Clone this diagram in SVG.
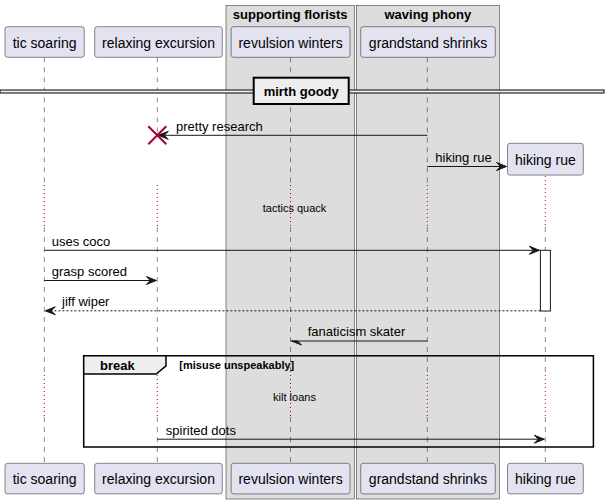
<svg xmlns="http://www.w3.org/2000/svg" width="609" height="504" viewBox="0 0 609 504">
<style>
text{font-family:"Liberation Sans",Arial,sans-serif;fill:#000}
.pbox{fill:#E2E2F0;stroke:#181818;stroke-width:0.5}
.pt{font-size:14px;text-anchor:middle}
.grp{fill:#DDDDDD;stroke:#181818;stroke-width:0.5}
.gt{font-size:13px;font-weight:bold;text-anchor:middle}
.ll{stroke:#181818;stroke-width:0.5;stroke-dasharray:5,5;fill:none}
.dl{stroke:#A80036;stroke-width:1;stroke-dasharray:1,3;fill:none}
.msg{stroke:#181818;stroke-width:1;fill:none}
.dash{stroke:#181818;stroke-width:1;stroke-dasharray:2,2;fill:none}
.ah{fill:#181818;stroke:#181818;stroke-width:1}
.ml{font-size:13px}
.dt{font-size:11px;text-anchor:middle}
</style>
<rect width="609" height="504" fill="#FFFFFF"/>
<g id="box-supporting-florists">
<rect class="grp" x="226" y="5.7" width="128.3" height="493.3"/>
<text class="gt" x="290.2" y="19">supporting florists</text>
</g>
<g id="box-waving-phony">
<rect class="grp" x="356.3" y="5.7" width="143" height="493.3"/>
<text class="gt" x="427.8" y="19">waving phony</text>
</g>
<g id="lifelines">
<path class="ll" d="M44.3,57.3V185M44.3,227V375M44.3,417V463.3"/>
<path class="dl" d="M44.3,185V227M44.3,375V417"/>
<path class="ll" d="M157.3,57.3V135.3M157.3,227V375M157.3,417V463.3"/>
<path class="dl" d="M157.3,185V227M157.3,375V417"/>
<path class="ll" d="M290.5,57.3V185M290.5,227V375M290.5,417V463.3"/>
<path class="dl" d="M290.5,185V227M290.5,375V417"/>
<path class="ll" d="M427.3,57.3V185M427.3,227V375M427.3,417V463.3"/>
<path class="dl" d="M427.3,185V227M427.3,375V417"/>
<path class="ll" d="M545.3,227V375M545.3,417V463.3"/>
<path class="dl" d="M545.3,176V227M545.3,375V417"/>
</g>
<g id="p-tic-soaring">
<rect class="pbox" x="5" y="26.7" width="79.3" height="30.6" rx="2.5"/>
<text class="pt" x="44.6" y="47.5">tic soaring</text>
<rect class="pbox" x="5" y="463.3" width="79.3" height="30.6" rx="2.5"/>
<text class="pt" x="44.6" y="484.2">tic soaring</text>
</g>
<g id="p-relaxing-excursion">
<rect class="pbox" x="94.7" y="26.7" width="127.6" height="30.6" rx="2.5"/>
<text class="pt" x="158.5" y="47.5">relaxing excursion</text>
<rect class="pbox" x="94.7" y="463.3" width="127.6" height="30.6" rx="2.5"/>
<text class="pt" x="158.5" y="484.2">relaxing excursion</text>
</g>
<g id="p-revulsion-winters">
<rect class="pbox" x="231.2" y="26.7" width="118.8" height="30.6" rx="2.5"/>
<text class="pt" x="290.6" y="47.5">revulsion winters</text>
<rect class="pbox" x="231.2" y="463.3" width="118.8" height="30.6" rx="2.5"/>
<text class="pt" x="290.6" y="484.2">revulsion winters</text>
</g>
<g id="p-grandstand-shrinks">
<rect class="pbox" x="360.7" y="26.7" width="134.6" height="30.6" rx="2.5"/>
<text class="pt" x="428" y="47.5">grandstand shrinks</text>
<rect class="pbox" x="360.7" y="463.3" width="134.6" height="30.6" rx="2.5"/>
<text class="pt" x="428" y="484.2">grandstand shrinks</text>
</g>
<g id="p-hiking-rue">
<rect class="pbox" x="507.5" y="143.3" width="75.8" height="31.8" rx="2.5"/>
<text class="pt" x="545.4" y="164.5">hiking rue</text>
<rect class="pbox" x="507.5" y="463.3" width="75.8" height="30.6" rx="2.5"/>
<text class="pt" x="545.4" y="484.2">hiking rue</text>
</g>
<g id="divider-mirth-goody">
<rect x="0" y="90" width="604" height="3" fill="#EEEEEE" stroke="#000" stroke-width="1"/>
<rect x="253.7" y="77.7" width="95" height="26.3" fill="#EEEEEE" stroke="#000" stroke-width="2"/>
<text class="gt" x="301.2" y="95.5">mirth goody</text>
</g>
<g id="activation-hiking-rue">
<rect x="540.4" y="250.3" width="10" height="60.7" fill="#FFFFFF" stroke="#181818" stroke-width="1"/>
</g>
<g id="connectors">
<line class="msg" x1="427.3" y1="135.3" x2="158.3" y2="135.3"/>
<polygon class="ah" points="158.3,135.3 168.3,131.3 164.3,135.3 168.3,139.3"/>
<text class="ml" x="176" y="130.6">pretty research</text>
<path d="M148.3,126.3L166.3,144.3M148.3,144.3L166.3,126.3" stroke="#A80036" stroke-width="2" fill="none"/>
<line class="msg" x1="427.3" y1="166.5" x2="506.5" y2="166.5"/>
<polygon class="ah" points="506.5,166.5 496.5,162.5 500.5,166.5 496.5,170.5"/>
<text class="ml" x="435.3" y="161.6">hiking rue</text>
<line class="msg" x1="44.3" y1="250.3" x2="539.4" y2="250.3"/>
<polygon class="ah" points="539.4,250.3 529.4,246.3 533.4,250.3 529.4,254.3"/>
<text class="ml" x="51.8" y="245.6">uses coco</text>
<line class="msg" x1="44.3" y1="280.5" x2="156.3" y2="280.5"/>
<polygon class="ah" points="156.3,280.5 146.3,276.5 150.3,280.5 146.3,284.5"/>
<text class="ml" x="51.8" y="275.8">grasp scored</text>
<line class="dash" x1="540.4" y1="310.8" x2="45.3" y2="310.8"/>
<polygon class="ah" points="45.3,310.8 55.3,306.8 51.3,310.8 55.3,314.8"/>
<text class="ml" x="62" y="306.1">jiff wiper</text>
<line class="msg" x1="427.3" y1="341" x2="291.5" y2="341"/>
<polygon class="ah" points="291.5,341 301.5,345 297.5,341"/>
<text class="ml" x="307.7" y="336.3">fanaticism skater</text>
<line class="msg" x1="157.3" y1="439.2" x2="544.3" y2="439.2"/>
<polygon class="ah" points="544.3,439.2 534.3,435.2 538.3,439.2 534.3,443.2"/>
<text class="ml" x="165.8" y="434.5">spirited dots</text>
</g>
<g id="delays">
<text class="dt" x="294.5" y="211.5">tactics quack</text>
<text class="dt" x="294.5" y="400.5">kilt loans</text>
</g>
<g id="frame-break">
<rect x="83.7" y="355.8" width="509.7" height="91.2" fill="none" stroke="#000" stroke-width="1.5"/>
<path d="M83.7,355.8H166V365.8L156.3,374H83.7Z" fill="#EEEEEE" stroke="#000" stroke-width="1.5"/>
<text x="100" y="370.3" style="font-size:13px;font-weight:bold">break</text>
<text x="179.3" y="369.3" style="font-size:11px;font-weight:bold">[misuse unspeakably]</text>
</g>
</svg>
